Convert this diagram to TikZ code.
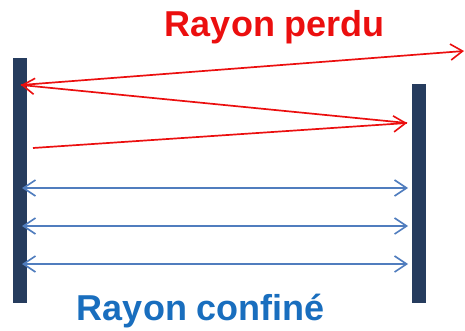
\documentclass[tikz,border=0pt]{standalone}
\usepackage{fontspec}
\setmainfont{Liberation Sans}
\usetikzlibrary{arrows.meta}
\definecolor{miroir}{RGB}{38,60,94}
\definecolor{rouge}{RGB}{235,15,15}
\definecolor{bleu}{RGB}{80,125,190}
\definecolor{bleutxt}{RGB}{25,110,190}
\begin{document}
\begin{tikzpicture}[x=1pt,y=-1pt]
  \tikzset{mirror/.style={fill=miroir,inner sep=0pt,minimum width=14pt,anchor=north},
    perdu/.style={rouge,line width=1.7pt,-{Straight Barb[length=12pt,width=16pt,line width=1.6pt]}},
    confine/.style={bleu,line width=1.9pt,{Straight Barb[length=12pt,width=16pt,line width=1.6pt]}-{Straight Barb[length=12pt,width=16pt,line width=1.6pt]}},
    titre/.style={font={\bfseries\fontsize{36pt}{42pt}\selectfont},anchor=base}}
  \useasboundingbox (0,0) rectangle (465,331);
  \node[mirror,minimum height=245pt] (mg) at (20,58) {};
  \node[mirror,minimum height=219pt] (md) at (419,84) {};
  % rayon perdu
  \coordinate (r0) at (33,148);
  \coordinate (r1) at (407,123);
  \coordinate (r2) at (21,85);
  \coordinate (r3) at (464,51);
  \draw[perdu] (r0)--(r1);
  \draw[perdu] (r1)--(r2);
  \draw[perdu] (r2)--(r3);
  \node[titre,rouge] (tp) at (275,37) {Rayon perdu};
  % rayons confines
  \foreach \y in {188,226,264}{
    \coordinate (g\y) at (22,\y);
    \coordinate (d\y) at (408,\y);
    \draw[confine] (g\y)--(d\y);
  }
  \node[titre,bleutxt] (tc) at (201,320) {Rayon confiné};
\end{tikzpicture}
\end{document}
